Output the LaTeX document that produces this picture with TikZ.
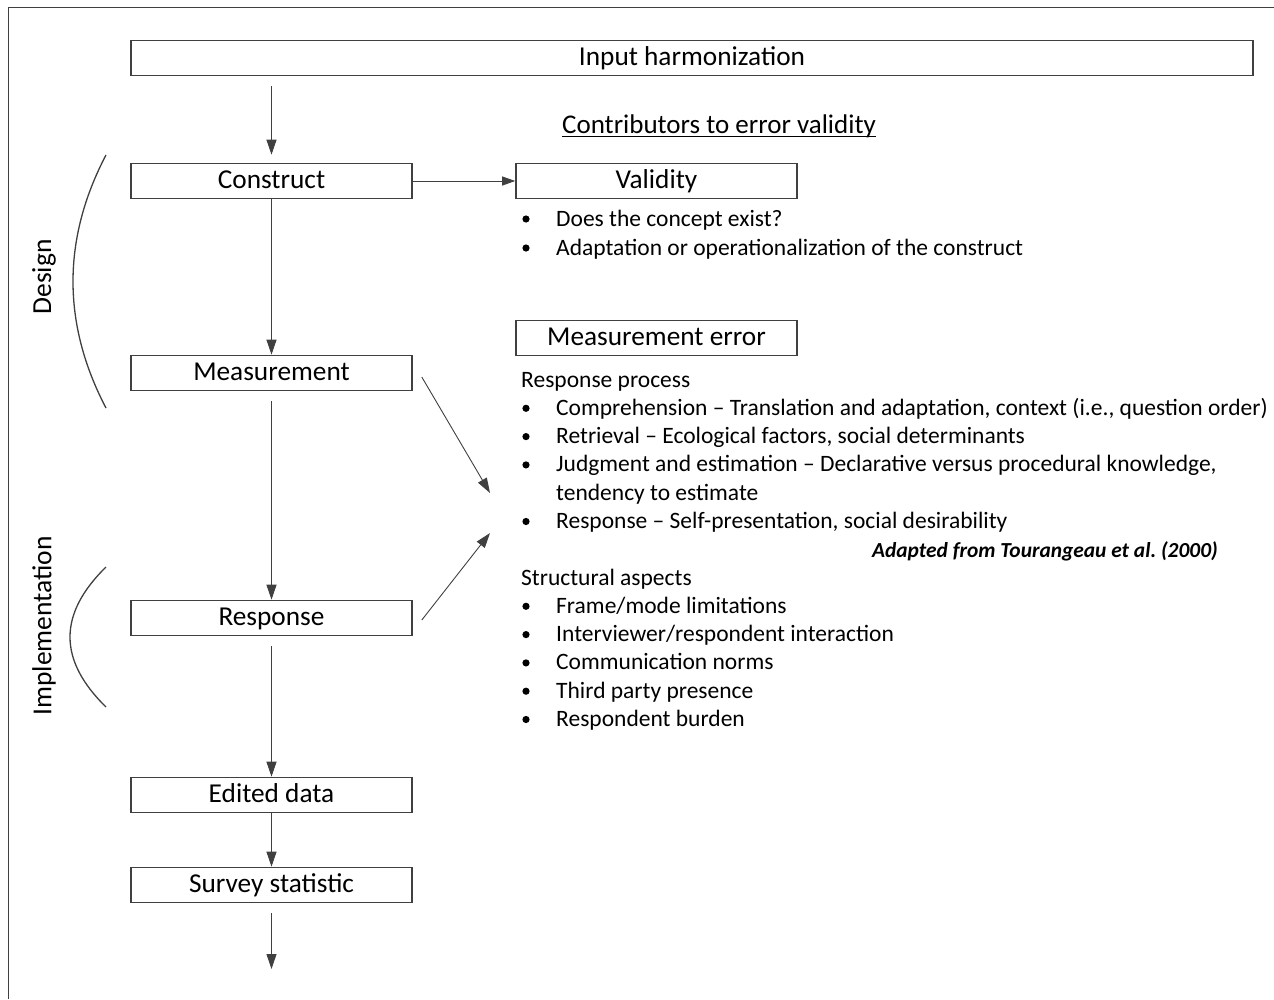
\documentclass[tikz,border=0pt]{standalone}
\usepackage{fontspec}
\setmainfont{Carlito}
\usetikzlibrary{arrows.meta,calc}
\definecolor{ink}{HTML}{404040}
\begin{document}
\begin{tikzpicture}[x=1pt,y=-1pt,
  stagebox/.style={draw=ink,line width=1.6pt,minimum width=281pt,minimum height=35pt,
    inner sep=0pt,text height=20.5pt,text depth=5.9pt,font=\fontsize{27.3}{30}\selectfont},
  arr/.style={draw=ink,line width=0.9pt,-{Triangle[length=15pt,width=10pt]}},
  txt/.style={anchor=base west,inner sep=0pt,font=\fontsize{23.5}{28}\selectfont},
  bul/.style={fill=black},
  bracket/.style={draw=ink,line width=1.3pt}]
\useasboundingbox (0,0) rectangle (1274,999);

% outer frame (open at right and bottom)
\draw[draw=ink,line width=1.6pt] (8.5,999) -- (8.5,7.5) -- (1274,7.5);

% main flow boxes
\node[stagebox,minimum width=1122pt] (input) at (692,58) {Input harmonization};
\node[stagebox] (construct) at (271.5,181) {Construct};
\node[stagebox] (measurement) at (271.5,373) {Measurement};
\node[stagebox] (response) at (271.5,618) {Response};
\node[stagebox] (edited) at (271.5,795) {Edited data};
\node[stagebox] (survey) at (271.5,885) {Survey statistic};

% error boxes
\node[stagebox] (validity) at (656.5,181) {Validity};
\node[stagebox] (merror) at (656.5,338) {Measurement error};

% heading
\node[anchor=base,inner sep=0pt,font=\fontsize{27}{30}\selectfont] (heading) at (719,133) {Contributors to error validity};
\draw[line width=1pt] ([yshift=-3pt]heading.base west) -- ([yshift=-3pt]heading.base east);

% flow arrows
\draw[arr,shorten <=10pt,shorten >=8pt] (construct.north |- input.south) -- (construct.north);
\draw[arr] (construct.south) -- (measurement.north);
\draw[arr,shorten <=10pt] (measurement.south) -- (response.north);
\draw[arr,shorten <=10pt] (response.south) -- (edited.north);
\draw[arr] (edited.south) -- (survey.north);
\coordinate (outflow) at (271.5,969);
\draw[arr,shorten <=10pt] (survey.south) -- (outflow);
\draw[arr,-{Triangle[length=13pt,width=9pt]}] (construct.east) -- (validity.west);

\coordinate (mtip) at (490,493);
\coordinate (rtip) at (490,533);
\draw[arr] ($(measurement.east)+(9,4)$) -- (mtip);
\draw[arr] ($(response.east)+(9,2)$) -- (rtip);

% phase brackets
\draw[bracket] (106,155) .. controls (62,239) and (62,324) .. (106,408);
\draw[bracket] (106,567) .. controls (58,614) and (58,660) .. (106,707);
\node[rotate=90,inner sep=0pt,font=\fontsize{27.5}{30}\selectfont] (design) at (44,277) {Design};
\node[rotate=90,inner sep=0pt,font=\fontsize{27.5}{30}\selectfont] (impl) at (44,626) {Implementation};

% validity items
\foreach \y/\t in {226/{Does the concept exist?},255/{Adaptation or operationalization of the construct}}{
  \fill[bul] (526,\y-7) circle (3.6);
  \node[txt] at (556,\y) {\t};
}

% response process
\node[txt] (rp) at (521,387) {Response process};
\foreach \y/\t in {415.3/{Comprehension – Translation and adaptation, context (i.e., question order)},
  443.6/{Retrieval – Ecological factors, social determinants},
  471.9/{Judgment and estimation – Declarative versus procedural knowledge,},
  528.5/{Response – Self-presentation, social desirability}}{
  \fill[bul] (526,\y-7) circle (3.6);
  \node[txt] at (556,\y) {\t};
}
\node[txt] at (556,500.2) {tendency to estimate};
\node[anchor=base east,inner sep=0pt,font=\fontsize{21.4}{25}\selectfont\bfseries\itshape] (src) at (1218,557) {Adapted from Tourangeau et al.~(2000)};

% structural aspects
\node[txt] (sa) at (521,585) {Structural aspects};
\foreach \y/\t in {613.3/{Frame/mode limitations},641.6/{Interviewer/respondent interaction},
  669.9/{Communication norms},698.2/{Third party presence},726.5/{Respondent burden}}{
  \fill[bul] (526,\y-7) circle (3.6);
  \node[txt] at (556,\y) {\t};
}
\end{tikzpicture}
\end{document}
